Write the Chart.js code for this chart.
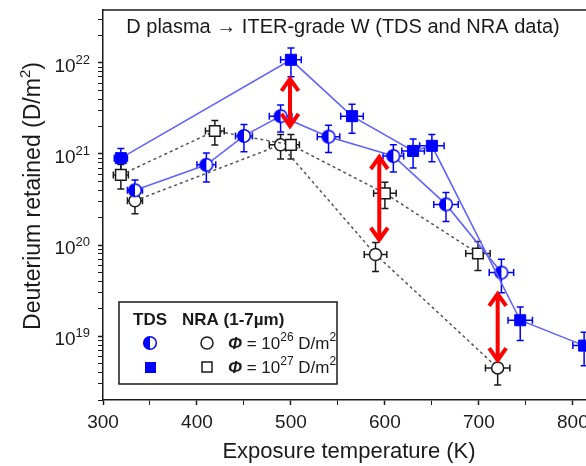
<!DOCTYPE html>
<html>
<head>
<meta charset="utf-8">
<script src="https://cdn.jsdelivr.net/npm/chart.js@4.4.0/dist/chart.umd.min.js"></script>
<style>
  html, body { margin: 0; padding: 0; background: #fff; overflow: hidden; }
  canvas { display: block; }
</style>
</head>
<body>
<canvas id="chart" width="586" height="466"></canvas>
<script>
// values: exposure temperature (K) and retained D (D/m^2)
const tds26T = [334, 410, 450, 489, 540, 609, 665, 724];
const tds26D = [4.0e20, 7.6e20, 1.58e21, 2.6e21, 1.55e21, 9.5e20, 2.8e20, 5.0e19];
const tds26Xerr = [8, 10, 9, 12, 12, 11, 13, 13];
const tds26Yerr = [0.3, 0.35, 0.33, 0.33, 0.33, 0.33, 0.35, 0.4];

const tds27T = [319, 500, 565, 630, 650, 744, 812];
const tds27D = [9.0e20, 1.08e22, 2.6e21, 1.08e21, 1.23e21, 1.5e19, 7.9e18];
const tds27Xerr = [7, 11, 12, 12, 13, 13, 12];
const tds27Yerr = [0.28, 0.35, 0.35, 0.35, 0.33, 0.4, 0.4];

const nra26T = [334, 489, 590, 720];
const nra26D = [3.07e20, 1.26e21, 7.9e19, 4.5e18];
const nra26Xerr = [8, 12, 12, 13];
const nra26Yerr = [0.28, 0.3, 0.35, 0.35];

const nra27T = [319, 419, 500, 600, 699];
const nra27D = [5.9e20, 1.79e21, 1.26e21, 3.7e20, 8.1e19];
const nra27Xerr = [8, 10, 9, 12, 13];
const nra27Yerr = [0.3, 0.3, 0.3, 0.32, 0.35];

// red double arrows (temperature, upper end, lower end)
const arrowT = [499, 594, 720];
const arrowTop = [7.0e21, 9.75e20, 3.07e19];
const arrowBottom = [1.93e21, 1.09e20, 5.2e18];

const yTickLabels = [1e19, 1e20, 1e21, 1e22];
const xTickLabels = [300, 400, 500, 600, 700, 800];

const family = '"Liberation Sans", Arial, sans-serif';
const ink = '#1a1a1a';
const blue = '#0000ff';

const pts = (xs, ys) => xs.map((x, i) => ({ x: x, y: ys[i] }));

// half filled circle marker
const halfCircle = (() => {
  const s = 18, r = 6.3;
  const c = document.createElement('canvas');
  c.width = s; c.height = s;
  const g = c.getContext('2d');
  g.fillStyle = '#fff';
  g.beginPath(); g.arc(s / 2, s / 2, r, 0, Math.PI * 2); g.fill();
  g.fillStyle = blue;
  g.beginPath(); g.arc(s / 2, s / 2, r, Math.PI / 2, Math.PI * 1.5); g.closePath(); g.fill();
  g.strokeStyle = blue; g.lineWidth = 1.5;
  g.beginPath(); g.arc(s / 2, s / 2, r, 0, Math.PI * 2); g.stroke();
  return c;
})();

const errorBars = {
  id: 'errorBars',
  beforeDatasetsDraw(chart) {
    const { ctx, scales: { x, y } } = chart;
    chart.data.datasets.forEach(ds => {
      ctx.save();
      ctx.strokeStyle = ds.errColor;
      ctx.lineWidth = 1.5;
      ds.data.forEach((p, i) => {
        const px = x.getPixelForValue(p.x), py = y.getPixelForValue(p.y);
        const x0 = x.getPixelForValue(p.x - ds.xErr[i]), x1 = x.getPixelForValue(p.x + ds.xErr[i]);
        const y0 = y.getPixelForValue(p.y * (1 + ds.yErr[i])), y1 = y.getPixelForValue(p.y * (1 - ds.yErr[i]));
        ctx.beginPath();
        ctx.moveTo(x0, py); ctx.lineTo(x1, py);
        ctx.moveTo(x0, py - 3.5); ctx.lineTo(x0, py + 3.5);
        ctx.moveTo(x1, py - 3.5); ctx.lineTo(x1, py + 3.5);
        ctx.moveTo(px, y0); ctx.lineTo(px, y1);
        ctx.moveTo(px - 3.5, y0); ctx.lineTo(px + 3.5, y0);
        ctx.moveTo(px - 3.5, y1); ctx.lineTo(px + 3.5, y1);
        ctx.stroke();
      });
      ctx.restore();
    });
  }
};

const arrows = {
  id: 'arrows',
  afterDatasetsDraw(chart) {
    const { ctx, scales: { x, y } } = chart;
    ctx.save();
    ctx.strokeStyle = '#ff0000';
    ctx.lineWidth = 4;
    ctx.lineJoin = 'miter';
    arrowT.forEach((t, i) => {
      const ax = x.getPixelForValue(t);
      const yt = y.getPixelForValue(arrowTop[i]);
      const yb = y.getPixelForValue(arrowBottom[i]);
      ctx.beginPath();
      ctx.moveTo(ax, yt + 3); ctx.lineTo(ax, yb - 3);
      ctx.moveTo(ax - 8.5, yt + 14); ctx.lineTo(ax, yt + 2); ctx.lineTo(ax + 8.5, yt + 14);
      ctx.moveTo(ax - 8.5, yb - 14); ctx.lineTo(ax, yb - 2); ctx.lineTo(ax + 8.5, yb - 14);
      ctx.stroke();
    });
    ctx.restore();
  }
};

// draws runs of [text, font, dy] left to right
function runs(ctx, parts, x, y) {
  parts.forEach(([t, font, dy]) => {
    ctx.font = font;
    ctx.fillText(t, x, y + (dy || 0));
    x += ctx.measureText(t).width;
  });
  return x;
}

const decor = {
  id: 'decor',
  afterDraw(chart) {
    const { ctx, chartArea: a, scales: { x, y } } = chart;
    ctx.save();
    // top frame line
    ctx.strokeStyle = ink; ctx.lineWidth = 1.5;
    ctx.beginPath(); ctx.moveTo(a.left, a.top); ctx.lineTo(a.right, a.top); ctx.stroke();

    ctx.fillStyle = ink;
    ctx.textBaseline = 'alphabetic';

    // x tick labels
    ctx.font = '19px ' + family;
    ctx.textAlign = 'center';
    xTickLabels.forEach(v => ctx.fillText(String(v), x.getPixelForValue(v), 428));
    // x axis title
    ctx.font = '22px ' + family;
    ctx.fillText('Exposure temperature (K)', 349, 458);

    ctx.textAlign = 'left';
    // y tick labels 10^n
    yTickLabels.forEach(v => {
      const py = y.getPixelForValue(v);
      const e = String(Math.round(Math.log10(v)));
      ctx.font = '13px ' + family;
      const ew = ctx.measureText(e).width;
      ctx.font = '19px ' + family;
      const bw = ctx.measureText('10').width;
      const right = 90;
      ctx.fillText('10', right - ew - bw, py + 9);
      ctx.font = '13px ' + family;
      ctx.fillText(e, right - ew, py + 1);
    });

    // y axis title
    ctx.save();
    ctx.translate(40, 196);
    ctx.rotate(-Math.PI / 2);
    const big = '23px ' + family, small = '15px ' + family;
    ctx.font = big;
    const w1 = ctx.measureText('Deuterium retained (D/m').width;
    const w3 = ctx.measureText(')').width;
    ctx.font = small;
    const w2 = ctx.measureText('2').width;
    runs(ctx, [['Deuterium retained (D/m', big], ['2', small, -10], [')', big]], -(w1 + w2 + w3) / 2, 0);
    ctx.restore();

    // title inside plot
    ctx.font = '20px ' + family;
    ctx.textAlign = 'center';
    ctx.fillText('D plasma \u2192 ITER-grade W (TDS and NRA data)', 343, 33);
    ctx.textAlign = 'left';

    // legend
    ctx.fillStyle = '#fff';
    ctx.fillRect(119, 302, 218, 82);
    ctx.strokeStyle = ink; ctx.lineWidth = 1.5;
    ctx.strokeRect(119, 302, 218, 82);
    ctx.fillStyle = ink;
    const bold = 'bold 17px ' + family;
    ctx.font = bold;
    ctx.fillText('TDS', 133, 325);
    ctx.fillText('NRA (1-7\u00b5m)', 182, 325);
    ctx.drawImage(halfCircle, 150 - 9, 343 - 9);
    ctx.fillStyle = blue;
    ctx.fillRect(145, 362, 11, 11);
    ctx.strokeStyle = ink; ctx.lineWidth = 1.5;
    ctx.beginPath(); ctx.arc(207, 343, 6, 0, Math.PI * 2); ctx.stroke();
    ctx.strokeRect(202, 362, 10, 10);
    ctx.fillStyle = ink;
    const reg = '17px ' + family, sup = '12px ' + family, phi = 'italic bold 17px ' + family;
    runs(ctx, [['\u03a6', phi], [' = 10', reg], ['26', sup, -8], [' D/m', reg], ['2', sup, -8]], 228, 349);
    runs(ctx, [['\u03a6', phi], [' = 10', reg], ['27', sup, -8], [' D/m', reg], ['2', sup, -8]], 228, 373);
    ctx.restore();
  }
};

const yTicks = [];
for (let n = 18; n <= 22; n++) {
  for (let m = 1; m <= 9; m++) {
    const v = m * Math.pow(10, n);
    if (v >= 2e18 && v <= 3.8e22) yTicks.push(v);
  }
}
const isDecade = v => Math.abs(Math.log10(v) - Math.round(Math.log10(v))) < 1e-6;

new Chart(document.getElementById('chart'), {
  type: 'scatter',
  data: {
    datasets: [
      {
        label: 'TDS 1e27', data: pts(tds27T, tds27D), showLine: true,
        borderColor: '#6262ff', borderWidth: 1.6,
        pointStyle: 'rect', pointRadius: 7.8, pointBackgroundColor: blue,
        pointBorderColor: blue, pointBorderWidth: 1,
        xErr: tds27Xerr, yErr: tds27Yerr, errColor: blue
      },
      {
        label: 'TDS 1e26', data: pts(tds26T, tds26D), showLine: true,
        borderColor: '#6262ff', borderWidth: 1.6,
        pointStyle: halfCircle, pointRadius: 6,
        xErr: tds26Xerr, yErr: tds26Yerr, errColor: blue
      },
      {
        label: 'NRA 1e27', data: pts(nra27T, nra27D), showLine: true,
        borderColor: '#555', borderWidth: 1.5, borderDash: [3, 3],
        pointStyle: 'rect', pointRadius: 7.5, pointBackgroundColor: '#fff',
        pointBorderColor: ink, pointBorderWidth: 1.5,
        xErr: nra27Xerr, yErr: nra27Yerr, errColor: ink
      },
      {
        label: 'NRA 1e26', data: pts(nra26T, nra26D), showLine: true,
        borderColor: '#555', borderWidth: 1.5, borderDash: [3, 3],
        pointStyle: 'circle', pointRadius: 6, pointBackgroundColor: '#fff',
        pointBorderColor: ink, pointBorderWidth: 1.5,
        xErr: nra26Xerr, yErr: nra26Yerr, errColor: ink
      }
    ]
  },
  options: {
    responsive: false,
    devicePixelRatio: 1,
    animation: false,
    events: [],
    layout: { autoPadding: false, padding: { top: 10, right: 0, bottom: 0, left: 0 } },
    plugins: { legend: { display: false }, tooltip: { enabled: false } },
    scales: {
      x: {
        type: 'linear', min: 300, max: 814,
        afterFit: s => { s.height = 66; },
        ticks: {
          stepSize: 50, includeBounds: false, autoSkip: false, maxRotation: 0,
          padding: 0, callback: () => ''
        },
        grid: { drawOnChartArea: false, drawTicks: true, tickLength: 5, tickColor: ink,
                tickWidth: c => (c.tick && c.tick.value % 100 === 0) ? 1.5 : 1 },
        border: { color: ink, width: 1.5 }
      },
      y: {
        type: 'logarithmic', min: 2e18, max: 3.8e22,
        afterFit: s => { s.width = 103; },
        afterBuildTicks: s => { s.ticks = yTicks.map(v => ({ value: v })); },
        ticks: { callback: () => '', autoSkip: false, padding: 0 },
        grid: { drawOnChartArea: false, drawTicks: true, tickLength: 5, tickColor: ink,
                tickWidth: c => (c.tick && isDecade(c.tick.value)) ? 1.5 : 1 },
        border: { color: ink, width: 1.5 }
      }
    }
  },
  plugins: [errorBars, arrows, decor]
});
</script>
</body>
</html>
